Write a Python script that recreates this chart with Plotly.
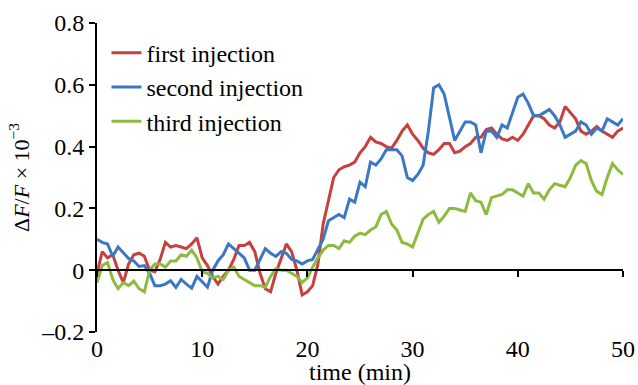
import plotly.graph_objects as go

# time axis (min), sampled every 0.5 min
time_min = [i * 0.5 for i in range(101)]

first_injection = [
    -0.01, 0.06, 0.04, 0.05, 0.0, -0.04, 0.02, 0.05, 0.055, 0.045,
    0.0, -0.005, 0.035, 0.09, 0.075, 0.08, 0.075, 0.07, 0.085, 0.105,
    0.04, 0.015, -0.02, -0.045, -0.02, 0.0, 0.035, 0.08, 0.08, 0.09,
    0.06, -0.01, -0.06, -0.07, -0.01, 0.04, 0.085, 0.06, 0.0, -0.08,
    -0.07, -0.05, 0.02, 0.15, 0.22, 0.30, 0.325, 0.335, 0.34, 0.35,
    0.38, 0.40, 0.43, 0.415, 0.41, 0.40, 0.395, 0.42, 0.45, 0.47,
    0.44, 0.42, 0.395, 0.38, 0.375, 0.39, 0.41, 0.41, 0.38, 0.385,
    0.40, 0.41, 0.43, 0.43, 0.455, 0.46, 0.44, 0.425, 0.42, 0.43,
    0.42, 0.44, 0.47, 0.50, 0.50, 0.49, 0.47, 0.46, 0.48, 0.53,
    0.51, 0.49, 0.45, 0.44, 0.45, 0.465, 0.45, 0.44, 0.43, 0.45,
    0.46,
]

second_injection = [
    0.10, 0.09, 0.085, 0.045, 0.075, 0.055, 0.038, 0.03, 0.012, 0.015,
    -0.01, -0.05, -0.05, -0.045, -0.034, -0.056, -0.03, -0.045, -0.058, -0.02,
    -0.038, -0.055, 0.0, 0.03, 0.05, 0.085, 0.07, 0.055, 0.04, 0.0,
    0.0, 0.035, 0.07, 0.055, 0.045, 0.06, 0.055, 0.035, 0.03, 0.02,
    0.03, 0.035, 0.07, 0.10, 0.16, 0.17, 0.18, 0.17, 0.23, 0.22,
    0.285, 0.27, 0.35, 0.34, 0.36, 0.39, 0.39, 0.39, 0.37, 0.30,
    0.29, 0.31, 0.34, 0.45, 0.59, 0.60, 0.57, 0.49, 0.42, 0.45,
    0.48, 0.48, 0.47, 0.38, 0.45, 0.45, 0.43, 0.47, 0.46, 0.51,
    0.56, 0.57, 0.54, 0.50, 0.50, 0.51, 0.52, 0.50, 0.47, 0.43,
    0.44, 0.45, 0.48, 0.47, 0.44, 0.46, 0.45, 0.49, 0.48, 0.47,
    0.49,
]

third_injection = [
    -0.04, 0.015, 0.025, -0.03, -0.06, -0.04, -0.05, -0.035, -0.06, -0.07,
    0.0, 0.02, 0.02, 0.01, 0.03, 0.03, 0.05, 0.045, 0.065, 0.04,
    -0.005, -0.01, -0.025, -0.02, -0.03, 0.0, 0.01, -0.02, -0.03, -0.04,
    -0.05, -0.05, -0.055, -0.02, 0.005, 0.0, 0.0, -0.01, -0.02, -0.04,
    -0.025, 0.01, 0.04, 0.065, 0.08, 0.08, 0.07, 0.095, 0.09, 0.11,
    0.12, 0.115, 0.13, 0.14, 0.18, 0.19, 0.15, 0.13, 0.09, 0.085,
    0.075, 0.12, 0.165, 0.18, 0.19, 0.155, 0.175, 0.20, 0.20, 0.195,
    0.19, 0.25, 0.225, 0.22, 0.18, 0.235, 0.24, 0.245, 0.26, 0.26,
    0.25, 0.24, 0.28, 0.25, 0.25, 0.23, 0.26, 0.28, 0.275, 0.27,
    0.30, 0.34, 0.355, 0.345, 0.29, 0.255, 0.245, 0.30, 0.345, 0.325,
    0.31,
]

series_names = ["first injection", "second injection", "third injection"]
series_colors = ["#c8403e", "#3a78c5", "#8dbb3f"]
x_ticks = [0, 10, 20, 30, 40, 50]
y_ticks = [-0.2, 0, 0.2, 0.4, 0.6, 0.8]
y_tick_text = ["\u20130.2", "0", "0.2", "0.4", "0.6", "0.8"]

FONT = "Liberation Serif"

fig = go.Figure()
for name, vals, col in zip(series_names, [first_injection, second_injection, third_injection], series_colors):
    fig.add_trace(go.Scatter(x=time_min, y=vals, mode="lines", name=name,
                             line=dict(color=col, width=3)))

# empty trace that activates the x-axis drawn at y = 0
fig.add_trace(go.Scatter(x=[None], y=[None], xaxis="x2", yaxis="y", showlegend=False,
                         hoverinfo="skip"))

y_min, y_max = -0.2, 0.8
zero_pos = (0 - y_min) / (y_max - y_min)

fig.update_layout(
    width=638, height=385,
    margin=dict(l=97, r=15, t=23, b=53),
    paper_bgcolor="white", plot_bgcolor="white",
    font=dict(family=FONT, size=24, color="black"),
    showlegend=True,
    legend=dict(x=0.018, y=0.975, xanchor="left", yanchor="top",
                bgcolor="rgba(0,0,0,0)", font=dict(size=24, family=FONT),
                tracegroupgap=0),
    xaxis=dict(range=[0, 50], tickvals=x_ticks, showline=False, showgrid=False,
               zeroline=False, ticks="", automargin=False,
               tickfont=dict(size=24, family=FONT),
               title=dict(text="time (min)", font=dict(size=24, family=FONT), standoff=0)),
    xaxis2=dict(range=[0, 50], tickvals=x_ticks, overlaying="x", anchor="free",
                position=zero_pos, side="bottom", showline=True, linecolor="black",
                linewidth=2, ticks="outside", ticklen=6, tickwidth=2, tickcolor="black",
                showticklabels=False, showgrid=False, zeroline=False, automargin=False),
    yaxis=dict(range=[y_min, y_max], tickvals=y_ticks, ticktext=y_tick_text,
               showline=True, linecolor="black", linewidth=2, ticks="outside",
               ticklen=6, tickwidth=2, tickcolor="black", showgrid=False, zeroline=False,
               automargin=False, tickfont=dict(size=24, family=FONT),
               title=dict(text="\u0394<i>F</i>/<i>F</i> \u00d7 10<sup>\u22123</sup>",
                          font=dict(size=22, family=FONT), standoff=6)),
)

fig.write_html("out.html")
